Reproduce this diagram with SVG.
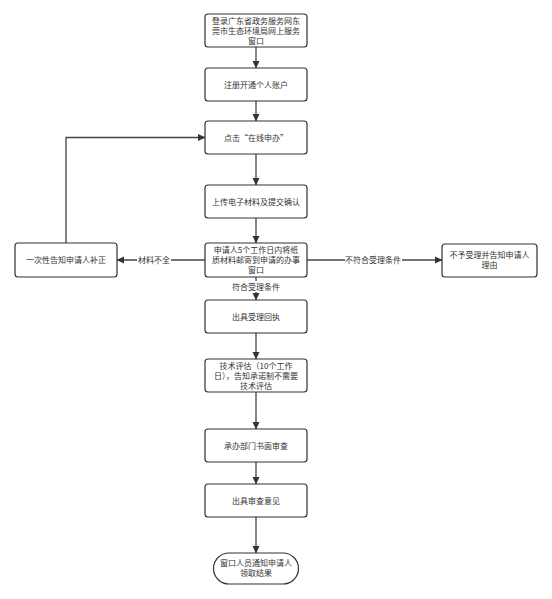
<svg xmlns="http://www.w3.org/2000/svg" width="552" height="599" viewBox="0 0 552 599">
<defs>
<marker id="ah" markerWidth="8" markerHeight="8" refX="7" refY="4" orient="auto" markerUnits="userSpaceOnUse">
<path d="M0,0.5 L7.5,4 L0,7.5 Z" fill="#333"/>
</marker>
<style>
.box{fill:#fff;stroke:#333;stroke-width:1.2}
.t{font-family:"Noto Sans CJK SC","Noto Sans",sans-serif;font-size:8px;fill:#333;text-anchor:middle}
.c{fill:none;stroke:#444;stroke-width:1.3;marker-end:url(#ah)}
.lb{fill:#fff}
</style>
</defs>
<rect width="552" height="599" fill="#fff"/>
<g id="connectors">
<path class="c" d="M256,47 V68"/>
<path class="c" d="M256,101 V121"/>
<path class="c" d="M256,154 V185"/>
<path class="c" d="M256,218 V243"/>
<path class="c" d="M205,260 H117"/>
<path class="c" d="M307,260 H442"/>
<path class="c" d="M256,277 V300"/>
<path class="c" d="M256,333 V359"/>
<path class="c" d="M256,392 V429"/>
<path class="c" d="M256,462 V484"/>
<path class="c" d="M256,517 V553"/>
<path class="c" d="M66,243 V137.5 H205"/>
<rect class="lb" x="137" y="254" width="34" height="11"/>
<text class="t" x="154" y="263">材料不全</text>
<rect class="lb" x="345" y="254" width="57" height="11"/>
<text class="t" x="373" y="263">不符合受理条件</text>
<rect class="lb" x="230" y="281" width="52" height="11"/>
<text class="t" x="256" y="290">符合受理条件</text>
</g>
<g id="n1"><rect class="box" x="205" y="14" width="102" height="33" rx="3"/>
<text class="t" x="256" y="24">登录广东省政务服务网东</text>
<text class="t" x="256" y="34">莞市生态环境局网上服务</text>
<text class="t" x="256" y="44">窗口</text></g>
<g id="n2"><rect class="box" x="205" y="68" width="102" height="33" rx="3"/>
<text class="t" x="256" y="87.5">注册开通个人账户</text></g>
<g id="n3"><rect class="box" x="205" y="121" width="102" height="33" rx="3"/>
<text class="t" x="256" y="140.5">点击“在线申办”</text></g>
<g id="n4"><rect class="box" x="205" y="185" width="102" height="33" rx="3"/>
<text class="t" x="256" y="204.5">上传电子材料及提交确认</text></g>
<g id="n5"><rect class="box" x="205" y="243" width="102" height="34" rx="3"/>
<text class="t" x="256" y="253">申请人5个工作日内将纸</text>
<text class="t" x="256" y="263">质材料邮寄到申请的办事</text>
<text class="t" x="256" y="273">窗口</text></g>
<g id="n6"><rect class="box" x="15" y="243" width="102" height="34" rx="3"/>
<text class="t" x="66" y="263">一次性告知申请人补正</text></g>
<g id="n7"><rect class="box" x="442" y="244" width="95" height="33" rx="3"/>
<text class="t" x="489.5" y="258">不予受理并告知申请人</text>
<text class="t" x="489.5" y="268">理由</text></g>
<g id="n8"><rect class="box" x="205" y="300" width="102" height="33" rx="3"/>
<text class="t" x="256" y="319.5">出具受理回执</text></g>
<g id="n9"><rect class="box" x="205" y="359" width="102" height="33" rx="3"/>
<text class="t" x="256" y="369">技术评估（10个工作</text>
<text class="t" x="256" y="379">日），告知承诺制不需要</text>
<text class="t" x="256" y="389">技术评估</text></g>
<g id="n10"><rect class="box" x="205" y="429" width="102" height="33" rx="3"/>
<text class="t" x="256" y="448.5">承办部门书面审查</text></g>
<g id="n11"><rect class="box" x="205" y="484" width="102" height="33" rx="3"/>
<text class="t" x="256" y="503.5">出具审查意见</text></g>
<g id="n12"><rect class="box" x="213.5" y="553" width="85" height="31" rx="15.5"/>
<text class="t" x="256" y="566">窗口人员通知申请人</text>
<text class="t" x="256" y="576">领取结果</text></g>
</svg>
